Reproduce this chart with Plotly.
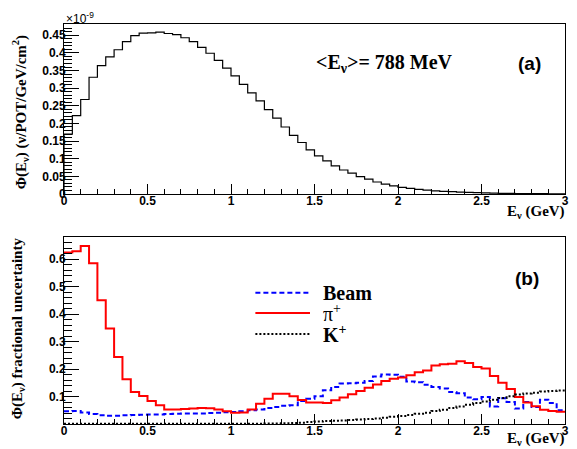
import numpy as np
import plotly.graph_objects as go

# ---------------- data ----------------
bin_width = 0.05
n_bins = 60
edges = [round(i * bin_width, 2) for i in range(n_bins + 1)]

# flux per bin, units of 1e-9 nu/POT/GeV/cm^2
flux = [0.170, 0.222, 0.268, 0.331, 0.364, 0.389, 0.409, 0.432, 0.449, 0.456,
        0.457, 0.459, 0.455, 0.452, 0.443, 0.432, 0.416, 0.399, 0.379, 0.357,
        0.335, 0.311, 0.287, 0.264, 0.239, 0.215, 0.190, 0.166, 0.146, 0.125,
        0.108, 0.094, 0.080, 0.068, 0.059, 0.049, 0.042, 0.034, 0.028, 0.023,
        0.019, 0.016, 0.013, 0.011, 0.009, 0.0075, 0.0065, 0.0055, 0.0045, 0.0038,
        0.0030, 0.0025, 0.0020, 0.0017, 0.0014, 0.0012, 0.0010, 0.0008, 0.0006, 0.0005]

beam = [0.046, 0.047, 0.042, 0.036, 0.032, 0.030, 0.030, 0.032, 0.033, 0.034,
        0.035, 0.035, 0.036, 0.037, 0.038, 0.038, 0.038, 0.040, 0.041, 0.043,
        0.044, 0.046, 0.050, 0.053, 0.058, 0.062, 0.066, 0.068, 0.084, 0.092,
        0.101, 0.123, 0.135, 0.147, 0.148, 0.150, 0.156, 0.173, 0.180, 0.179,
        0.172, 0.155, 0.152, 0.143, 0.135, 0.129, 0.116, 0.112, 0.096, 0.090,
        0.098, 0.064, 0.094, 0.080, 0.056, 0.080, 0.062, 0.088, 0.076, 0.050]

pion = [0.624, 0.628, 0.647, 0.585, 0.450, 0.347, 0.244, 0.163, 0.116, 0.102,
        0.084, 0.068, 0.053, 0.053, 0.055, 0.056, 0.058, 0.057, 0.053, 0.046,
        0.041, 0.042, 0.053, 0.074, 0.092, 0.110, 0.110, 0.101, 0.087, 0.078,
        0.078, 0.076, 0.086, 0.096, 0.108, 0.120, 0.132, 0.144, 0.156, 0.165,
        0.169, 0.177, 0.188, 0.195, 0.213, 0.217, 0.219, 0.228, 0.222, 0.207,
        0.202, 0.175, 0.150, 0.127, 0.098, 0.078, 0.065, 0.052, 0.047, 0.045]

kaon = [0.001, 0.001, 0.001, 0.001, 0.001, 0.001, 0.001, 0.001, 0.001, 0.001,
        0.001, 0.001, 0.001, 0.001, 0.001, 0.001, 0.001, 0.001, 0.001, 0.001,
        0.001, 0.001, 0.001, 0.001, 0.002, 0.002, 0.003, 0.004, 0.005, 0.007,
        0.009, 0.011, 0.012, 0.013, 0.015, 0.016, 0.018, 0.020, 0.023, 0.026,
        0.029, 0.033, 0.037, 0.041, 0.047, 0.052, 0.058, 0.064, 0.070, 0.076,
        0.082, 0.088, 0.095, 0.101, 0.107, 0.111, 0.114, 0.118, 0.120, 0.122]

x_ticks = [0, 0.5, 1, 1.5, 2, 2.5, 3]
x_ticklabels = ["0", "0.5", "1", "1.5", "2", "2.5", "3"]
top_y_ticks = [0, 0.05, 0.1, 0.15, 0.2, 0.25, 0.3, 0.35, 0.4, 0.45]
top_y_ticklabels = ["0", "0.05", "0.1", "0.15", "0.2", "0.25", "0.3", "0.35", "0.4", "0.45"]
bot_y_ticks = [0.1, 0.2, 0.3, 0.4, 0.5, 0.6]
bot_y_ticklabels = ["0.1", "0.2", "0.3", "0.4", "0.5", "0.6"]

legend_names = ["Beam", "π<sup>+</sup>", "K<sup>+</sup>"]


def step_xy(vals, start_zero=False):
    xs = list(edges[:-1]) + [edges[-1]]
    ys = list(vals) + [vals[-1]]
    if start_zero:
        xs = [edges[0]] + xs
        ys = [0] + ys
    return xs, ys


SANS = "Liberation Sans"
SERIF = "Liberation Serif"
BLUE_DASH = "5px,3px"
BLACK_DOT = "2px,2px"

fig = go.Figure()

fx, fy = step_xy(flux, start_zero=True)
fig.add_trace(go.Scatter(x=fx, y=fy, mode="lines", line=dict(color="black", width=1.2, shape="hv"),
                         xaxis="x", yaxis="y", showlegend=False))

for vals, col, dash, name in [(beam, "#0000ff", BLUE_DASH, legend_names[0]),
                              (pion, "#ff0000", "solid", legend_names[1]),
                              (kaon, "black", BLACK_DOT, legend_names[2])]:
    sx, sy = step_xy(vals)
    fig.add_trace(go.Scatter(x=sx, y=sy, mode="lines", name=name,
                             line=dict(color=col, width=2, shape="hv", dash=dash),
                             xaxis="x2", yaxis="y2", showlegend=False))

axis_common = dict(showline=True, linecolor="black", linewidth=1, mirror=True,
                   ticks="inside", tickcolor="black", showgrid=False, zeroline=False,
                   tickfont=dict(family=SANS, size=12, color="black", weight="bold"))

xaxis_common = dict(axis_common, range=[0, 3], tickmode="array", tickvals=x_ticks,
                    ticktext=x_ticklabels, ticklen=10, ticklabelstandoff=-4,
                    minor=dict(dtick=0.1, ticklen=5, ticks="inside", tickcolor="black"))

fig.update_layout(
    width=577, height=449,
    margin=dict(l=64, r=8, t=24, b=25),
    paper_bgcolor="white", plot_bgcolor="white",
    xaxis=dict(xaxis_common, domain=[0, 1], anchor="y"),
    yaxis=dict(axis_common, domain=[0.575, 1.0], anchor="x", range=[0, 0.482],
               tickmode="array", tickvals=top_y_ticks, ticktext=top_y_ticklabels, ticklen=15,
               ticklabelstandoff=-5,
               minor=dict(dtick=0.01, ticklen=8, ticks="inside", tickcolor="black")),
    xaxis2=dict(xaxis_common, domain=[0, 1], anchor="y2"),
    yaxis2=dict(axis_common, domain=[0, 0.4675], anchor="x2", range=[0, 0.68],
                tickmode="array", tickvals=bot_y_ticks, ticktext=bot_y_ticklabels, ticklen=15,
                ticklabelstandoff=-5,
                minor=dict(dtick=0.02, ticklen=8, ticks="inside", tickcolor="black")),
)

ann = []
ann.append(dict(text="×10<sup>-9</sup>", x=0, y=1.015, xref="paper", yref="paper",
                xanchor="left", yanchor="middle", showarrow=False,
                font=dict(family=SANS, size=12, color="black")))
ann.append(dict(text="<b>&lt;E<sub>ν</sub>&gt;= 788 MeV</b>", x=0.6396, y=0.9, xref="paper", yref="paper",
                xanchor="center", yanchor="middle", showarrow=False,
                font=dict(family=SERIF, size=20, color="black")))
ann.append(dict(text="<b>(a)</b>", x=0.9287, y=0.9, xref="paper", yref="paper",
                xanchor="center", yanchor="middle", showarrow=False,
                font=dict(family=SANS, size=19, color="black")))
ann.append(dict(text="<b>(b)</b>", x=0.9248, y=0.365, xref="paper", yref="paper",
                xanchor="center", yanchor="middle", showarrow=False,
                font=dict(family=SANS, size=19, color="black")))
for yy in [0.53, -0.038]:
    ann.append(dict(text="<b>E<sub>ν</sub> (GeV)</b>", x=1.004, y=yy, xref="paper", yref="paper",
                    xanchor="right", yanchor="middle", showarrow=False,
                    font=dict(family=SERIF, size=15, color="black")))
ann.append(dict(text="<b>Φ(E<sub>ν</sub>) (ν/POT/GeV/cm<sup>2</sup>)</b>", x=-0.0871, y=0.78,
                xref="paper", yref="paper", xanchor="center", yanchor="middle", textangle=-90,
                showarrow=False, font=dict(family=SERIF, size=15, color="black")))
ann.append(dict(text="<b>Φ(E<sub>ν</sub>) fractional uncertainty</b>", x=-0.0911, y=0.24,
                xref="paper", yref="paper", xanchor="center", yanchor="middle", textangle=-90,
                showarrow=False, font=dict(family=SERIF, size=15, color="black")))

# legend (manual)
leg_y = [0.328, 0.2775, 0.225]
leg_styles = [("#0000ff", BLUE_DASH), ("#ff0000", "solid"), ("black", BLACK_DOT)]
leg_bold = [True, False, True]
shapes = []
for yy, (col, dash), name, bold in zip(leg_y, leg_styles, legend_names, leg_bold):
    shapes.append(dict(type="line", xref="paper", yref="paper", x0=0.382, x1=0.491, y0=yy, y1=yy,
                       line=dict(color=col, width=2, dash=dash)))
    ann.append(dict(text=(f"<b>{name}</b>" if bold else name), x=0.513, y=yy, xref="paper", yref="paper",
                    xanchor="left", yanchor="middle", showarrow=False,
                    font=dict(family=SERIF, size=20, color="black")))

fig.update_layout(annotations=ann, shapes=shapes)

fig.write_html("out.html", config={"displayModeBar": False},
               post_script="document.body.style.margin='0';document.body.style.overflow='hidden';")
